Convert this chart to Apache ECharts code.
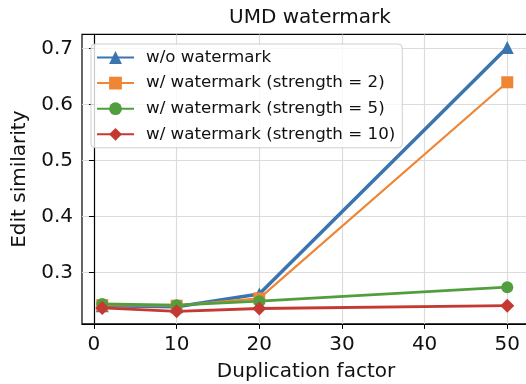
<!DOCTYPE html>
<html>
<head>
<meta charset="utf-8">
<script src="https://cdn.jsdelivr.net/npm/echarts@6/dist/echarts.min.js"></script>
<style>
  html, body { margin: 0; padding: 0; background: #fff; }
  #chart { width: 526px; height: 384px; }
</style>
</head>
<body>
<div id="chart"></div>
<script>
// duplication factor on the x axis
const dupFactors = [1, 10, 20, 50];
// edit similarity per series
const noWatermark = [0.241, 0.239, 0.262, 0.702];
const strength2 = [0.242, 0.241, 0.254, 0.640];
const strength5 = [0.244, 0.242, 0.249, 0.274];
const strength10 = [0.237, 0.231, 0.236, 0.241];
const xTicks = [0, 10, 20, 30, 40, 50];
const yTicks = [0.3, 0.4, 0.5, 0.6, 0.7];

const font = "DejaVu Sans";
const chart = echarts.init(document.getElementById("chart"), null, { renderer: "canvas" });

const pairs = (ys) => dupFactors.map((x, i) => [x, ys[i]]);

const makeSeries = (name, ys, color, symbol, size, width) => ({
  name: name,
  type: "line",
  data: pairs(ys),
  symbol: symbol,
  symbolSize: size,
  showSymbol: true,
  lineStyle: { color: color, width: width },
  itemStyle: { color: color, borderWidth: 0 },
  emphasis: { disabled: true },
  silent: true,
});

const option = {
  animation: false,
  backgroundColor: "#fff",
  textStyle: { fontFamily: font },
  title: {
    text: "UMD watermark",
    left: 305,
    top: 3,
    textAlign: "center",
    textStyle: { fontFamily: font, fontSize: 20, fontWeight: "normal", color: "#111" },
  },
  legend: {
    orient: "vertical",
    left: 91,
    top: 44,
    padding: [5, 7, 5, 5],
    itemWidth: 37,
    itemHeight: 16,
    itemGap: 8.6,
    backgroundColor: "rgba(255,255,255,0.8)",
    borderColor: "#cfcfcf",
    borderWidth: 1,
    borderRadius: 4,
    textStyle: { fontFamily: font, fontSize: 16.7, color: "#111", padding: [0, 0, 0, 7] },
    data: [
      "w/o watermark",
      "w/ watermark (strength = 2)",
      "w/ watermark (strength = 5)",
      "w/ watermark (strength = 10)",
    ],
  },
  grid: {
    left: 82,
    top: 34.4,
    width: 448,
    height: 289.5,
    containLabel: false,
    outerBoundsMode: "none",
    show: true,
    borderColor: "#000",
    borderWidth: 1.2,
    backgroundColor: "transparent",
  },
  xAxis: {
    type: "value",
    min: -1.45,
    max: 52.75,
    name: "Duplication factor",
    nameLocation: "middle",
    nameGap: 38,
    nameTextStyle: { fontFamily: font, fontSize: 20, color: "#111" },
    axisLine: { show: true, lineStyle: { color: "#000", width: 1.2 } },
    axisTick: { show: true, length: 5, lineStyle: { color: "#000", width: 1 }, customValues: xTicks },
    axisLabel: { fontFamily: font, fontSize: 20, color: "#111", margin: 11, customValues: xTicks },
    splitLine: { show: true, lineStyle: { color: "#dcdcdc", width: 1.2 } },
  },
  yAxis: {
    type: "value",
    min: 0.2085,
    max: 0.7255,
    name: "Edit similarity",
    nameLocation: "middle",
    nameGap: 46,
    nameTextStyle: { fontFamily: font, fontSize: 20, color: "#111" },
    axisLine: { show: true, lineStyle: { color: "#000", width: 1.2 } },
    axisTick: { show: true, length: 5, lineStyle: { color: "#000", width: 1 }, customValues: yTicks },
    axisLabel: {
      fontFamily: font,
      fontSize: 20,
      color: "#111",
      margin: 9,
      customValues: yTicks,
      formatter: (v) => v.toFixed(1),
    },
    splitLine: { show: true, lineStyle: { color: "#dcdcdc", width: 1.2 } },
  },
  series: [
    makeSeries("w/o watermark", noWatermark, "#3b75af", "triangle", 13, 3.5),
    makeSeries("w/ watermark (strength = 2)", strength2, "#ef8636", "rect", 12, 2.2),
    makeSeries("w/ watermark (strength = 5)", strength5, "#519e3e", "circle", 12, 2.8),
    makeSeries("w/ watermark (strength = 10)", strength10, "#c43a32", "diamond", 14, 2.8),
  ],
};

chart.setOption(option);
</script>
</body>
</html>
